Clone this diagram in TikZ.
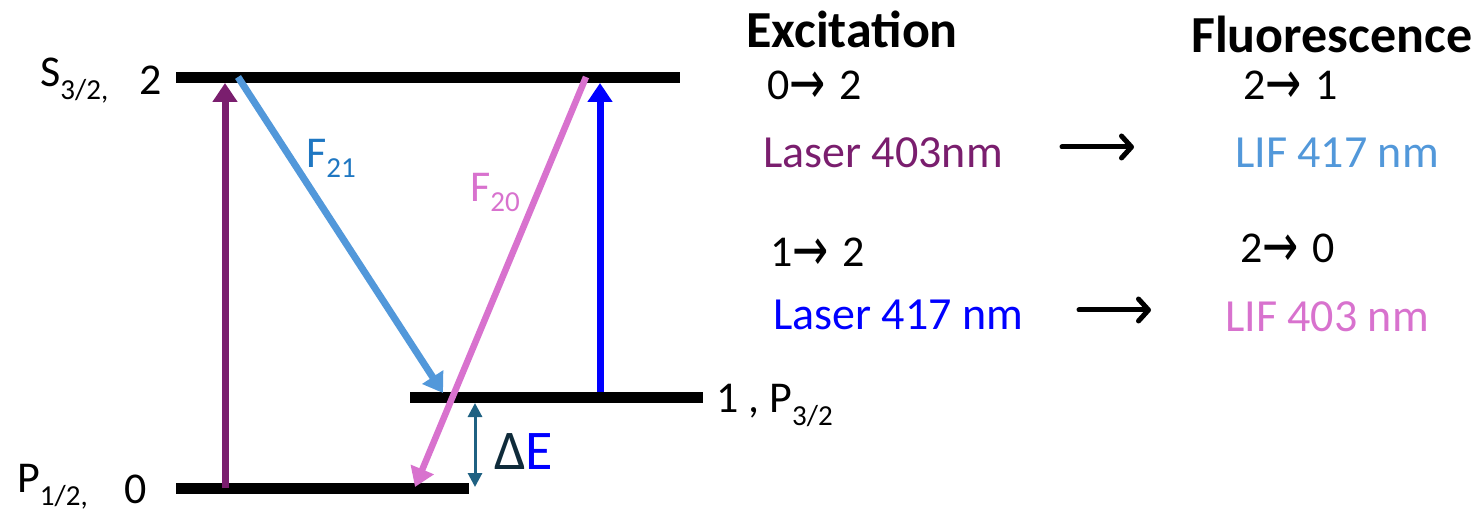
\documentclass[tikz,border=0pt]{standalone}
\usepackage{fontspec}
\setmainfont{Carlito}
\newfontfamily\arrfont{DejaVu Sans}
\usetikzlibrary{arrows.meta}
\definecolor{cpurple}{HTML}{7A1E6E}
\definecolor{cblue}{HTML}{0000FF}
\definecolor{clight}{HTML}{5298DA}
\definecolor{cflab}{HTML}{1F77C2}
\definecolor{cpink}{HTML}{D872CE}
\definecolor{cteal}{HTML}{1F6182}
\definecolor{cdelta}{HTML}{0F2B3A}
\newcommand{\lvsub}[1]{\raisebox{-13pt}{\fontsize{29}{30}\selectfont #1}}
\newcommand{\fsub}[1]{\raisebox{-10pt}{\fontsize{29}{30}\selectfont #1}}
\newcommand{\arr}{\smash{\raisebox{-3.5pt}{\scalebox{0.72}[1]{\fontsize{60}{60}\arrfont →}}}}
\begin{document}
\begin{tikzpicture}[x=1pt,y=-1pt,
  level/.style={fill=black,draw=none,inner sep=0pt,minimum height=11pt},
  txt/.style={inner sep=0pt,anchor=base west,font=\fontsize{44}{50}\selectfont},
  big/.style={inner sep=0pt,anchor=base west,font=\fontsize{46}{52}\selectfont},
  head/.style={inner sep=0pt,anchor=base west,font=\fontsize{52}{58}\selectfont\bfseries},
  trans/.style={line width=7pt,-{Triangle[width=24pt,length=19pt]}},
  blk/.style={line width=5pt,line cap=round,-{Straight Barb[length=10pt,width=22pt,line cap=round,line join=round]}}
]
\useasboundingbox (0,0) rectangle (1483,510);
% levels
\node[level,minimum width=504pt] (L2) at (428,77.5) {};
\node[level,minimum width=293pt] (L1) at (556.5,397.5) {};
\node[level,minimum width=293pt] (L0) at (322.5,488.5) {};
% coordinates on levels
\coordinate (p0) at (225,488);
\coordinate (p2a) at (225,83);
\coordinate (q1) at (600,392);
\coordinate (q2) at (600,83);
\coordinate (f21s) at (238,77);
\coordinate (f21e) at (443,393);
\coordinate (f20s) at (586,77);
\coordinate (f20e) at (415,487);
\coordinate (d1) at (475,403);
\coordinate (d0) at (475,487);
% transitions
\draw[trans,cpurple] (p0) -- (p2a);
\draw[trans,cblue] (q1) -- (q2);
\draw[trans,clight] (f21s) -- (f21e);
\draw[trans,cpink,line width=6.5pt] (f20s) -- (f20e);
\draw[cteal,line width=3pt,{Triangle[width=14pt,length=14pt]}-{Triangle[width=14pt,length=14pt]}] (d1) -- (d0);
% level labels
\node[txt] (s32) at (40,87) {S\lvsub{3/2,}};
\node[txt] (s2) at (139,95) {2};
\node[txt] (p12) at (17,492) {P\lvsub{1/2,}};
\node[txt] (p0l) at (124,503) {0};
\node[txt] (p32) at (716,413) {1 , P\lvsub{3/2}};
% transition labels
\node[txt,text=cflab] (lf21) at (306,168) {F\fsub{21}};
\node[txt,text=cpink] (lf20) at (470,202) {F\fsub{20}};
\node[inner sep=0pt,anchor=base west,font=\fontsize{56}{60}\selectfont] (de) at (494,469) {\textcolor{cdelta}{Δ}\textcolor{cblue}{E}};
% right side
\node[head] (exc) at (746,48) {Excitation};
\node[head] (flu) at (1191,53) {Fluorescence};
\node[txt] (t02) at (767,100) {0\arr\hspace{14pt}2};
\node[txt] (t21) at (1243,100) {2\arr\hspace{14pt}1};
\node[big,text=cpurple] (las403) at (763,168) {Laser 403nm};
\node[big,text=clight] (lif417) at (1235,168) {LIF 417 nm};
\node[txt] (t12) at (770,267) {1\arr\hspace{14pt}2};
\node[txt] (t20) at (1240,263) {2\arr\hspace{14pt}0};
\node[big,text=cblue] (las417) at (773,330) {Laser 417 nm};
\node[big,text=cpink] (lif403) at (1225,332) {LIF 403 nm};
\coordinate (a1s) at (1062,147);
\coordinate (a1e) at (1134,147);
\coordinate (a2s) at (1079,310);
\coordinate (a2e) at (1151,310);
\draw[blk] (a1s) -- (a1e);
\draw[blk] (a2s) -- (a2e);
\end{tikzpicture}
\end{document}
